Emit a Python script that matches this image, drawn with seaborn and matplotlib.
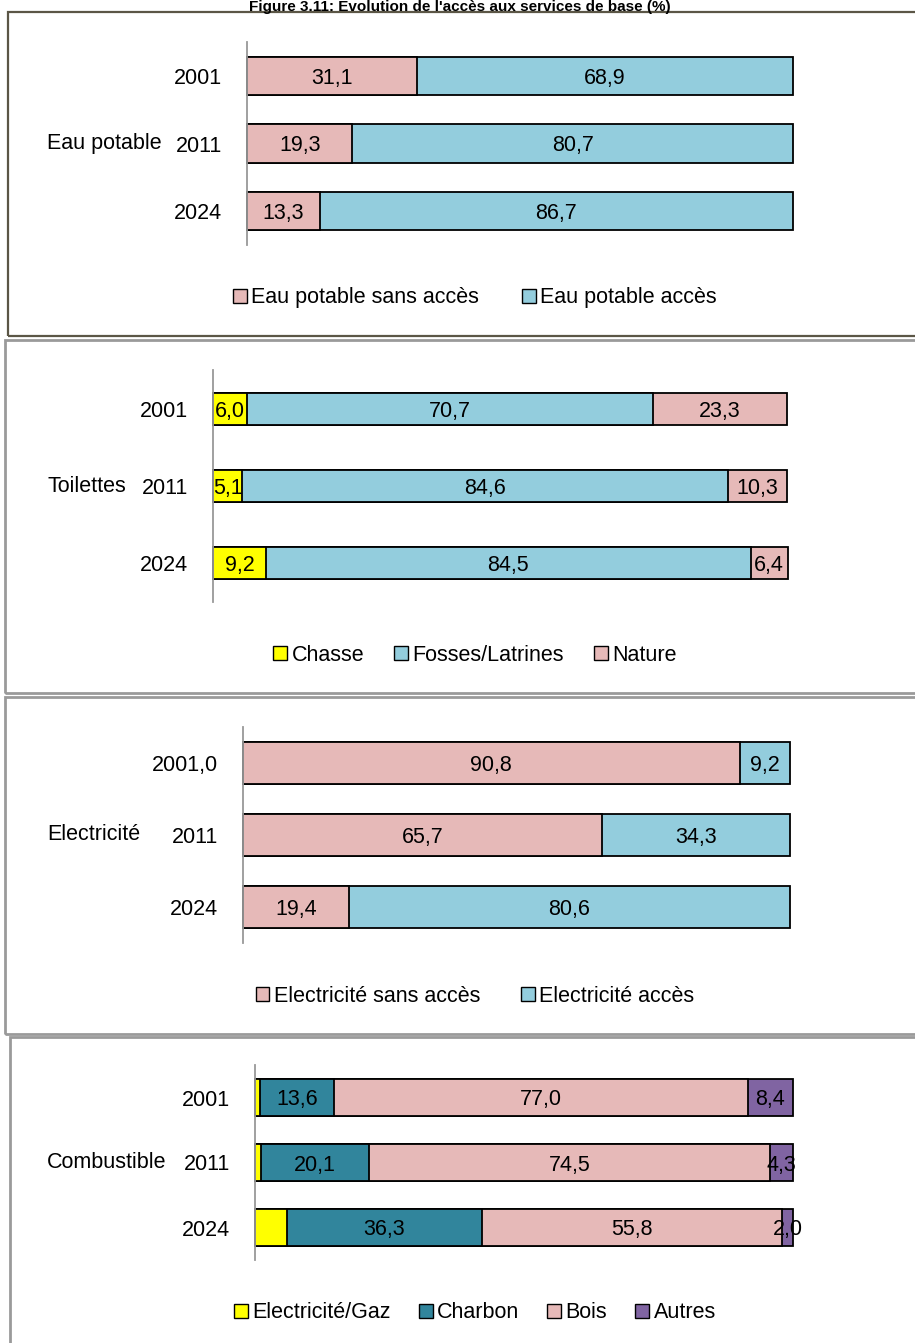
import numpy as np
import pandas as pd
import matplotlib
matplotlib.use('Agg')
import matplotlib.pyplot as plt
from matplotlib.patches import Patch, Rectangle
import seaborn as sns

sns.set_theme(style='white')
plt.rcParams['font.family'] = ['Liberation Sans', 'DejaVu Sans']
plt.rcParams['text.color'] = 'black'
plt.rcParams['ytick.color'] = 'black'

# Data (%)
years = ['2001', '2011', '2024']
years_elec = ['2001,0', '2011', '2024']

eau_sans = [31.1, 19.3, 13.3]
eau_acces = [68.9, 80.7, 86.7]

toil_chasse = [6.0, 5.1, 9.2]
toil_fosses = [70.7, 84.6, 84.5]
toil_nature = [23.3, 10.3, 6.4]

elec_sans = [90.8, 65.7, 19.4]
elec_acces = [9.2, 34.3, 80.6]

comb_elec = [1.0, 1.1, 5.9]
comb_charbon = [13.6, 20.1, 36.3]
comb_bois = [77.0, 74.5, 55.8]
comb_autres = [8.4, 4.3, 2.0]

PINK = '#E6B9B8'
BLUE = '#93CDDD'
YELLOW = '#FFFF00'
TEAL = '#31859C'
PURPLE = '#8064A2'

W, H = 915, 1343
fig = plt.figure(figsize=(W / 100, H / 100), dpi=100)
FS = 15.5


def fx(x):
    return x / W


def fy(y):
    return 1 - y / H


def box(x0, y0, x1, y1, color, lw):
    fig.patches.append(Rectangle((fx(x0), fy(y1)), fx(x1 - x0), (y1 - y0) / H,
                                 transform=fig.transFigure, fill=False,
                                 edgecolor=color, linewidth=lw, zorder=0))


def panel(px, ylabels, group, series, names, colors, show, bar_h, leg_y, col_sp):
    x0, y0, x1, y1 = px
    ax = fig.add_axes([fx(x0), fy(y1), fx(x1 - x0), (y1 - y0) / H])
    vals = np.array(series)
    cum = np.cumsum(vals, axis=0)
    # stacked bars: draw the running totals, widest first
    for i in reversed(range(len(vals))):
        df = pd.DataFrame({'annee': years, 'val': cum[i]})
        sns.barplot(data=df, x='val', y='annee', orient='h', color=colors[i],
                    saturation=1, edgecolor='black', linewidth=1.3,
                    width=bar_h, ax=ax)
    for p in ax.patches:
        p.set_clip_on(False)
    for i in range(len(vals)):
        if not show[i]:
            continue
        for j, v in enumerate(vals[i]):
            c = cum[i][j] - v / 2
            ax.text(c, j, f'{v:.1f}'.replace('.', ','), ha='center',
                    va='center_baseline', fontsize=FS, color='black')
    ax.set_xlim(0, 100)
    ax.set_ylim(2.5, -0.5)
    ax.set_xlabel('')
    ax.set_ylabel('')
    ax.set_xticks([])
    ax.set_yticks(range(3))
    ax.set_yticklabels(ylabels, fontsize=FS, color='black')
    ax.tick_params(axis='y', length=0, pad=18)
    for s in ['top', 'right', 'bottom']:
        ax.spines[s].set_visible(False)
    ax.spines['left'].set_color('#999999')
    ax.spines['left'].set_linewidth(1.3)
    ax.patch.set_alpha(0)
    fig.text(fx(47), fy((y0 + y1) / 2), group, ha='left', va='center',
             fontsize=FS, color='black')
    handles = [Patch(facecolor=c, edgecolor='black', linewidth=1) for c in colors]
    ax.legend(handles, names, loc='center', bbox_to_anchor=(fx(475), fy(leg_y)),
              bbox_transform=fig.transFigure, ncol=len(names), frameon=False,
              fontsize=FS, labelcolor='black', handlelength=0.65, handleheight=0.65,
              handletextpad=0.2, columnspacing=col_sp)
    return ax


# Panel frames
box(8, 12, 940, 336, '#5b5646', 1.6)
box(5, 340, 940, 693, '#9a9a9a', 2)
box(5, 697, 940, 1034, '#9a9a9a', 2)
box(10, 1037, 940, 1360, '#9a9a9a', 2)

fig.text(fx(460), fy(10.5), "Figure 3.11: Evolution de l'accès aux services de base (%)",
         ha='center', va='baseline', fontsize=11, fontweight='bold', color='black')

panel((247, 42, 793, 245), years, 'Eau potable',
      [eau_sans, eau_acces], ['Eau potable sans accès', 'Eau potable accès'],
      [PINK, BLUE], [True, True], 0.57, 298, 2.0)

panel((213, 370, 787, 602), years, 'Toilettes',
      [toil_chasse, toil_fosses, toil_nature], ['Chasse', 'Fosses/Latrines', 'Nature'],
      [YELLOW, BLUE, PINK], [True, True, True], 0.41, 655, 1.4)

panel((243, 727, 790, 943), years_elec, 'Electricité',
      [elec_sans, elec_acces], ['Electricité sans accès', 'Electricité accès'],
      [PINK, BLUE], [True, True], 0.57, 996, 1.9)

panel((255, 1065, 793, 1260), years, 'Combustible',
      [comb_elec, comb_charbon, comb_bois, comb_autres],
      ['Electricité/Gaz', 'Charbon', 'Bois', 'Autres'],
      [YELLOW, TEAL, PINK, PURPLE], [False, True, True, True], 0.57, 1313, 1.3)

fig.savefig('out.png', dpi=100)
